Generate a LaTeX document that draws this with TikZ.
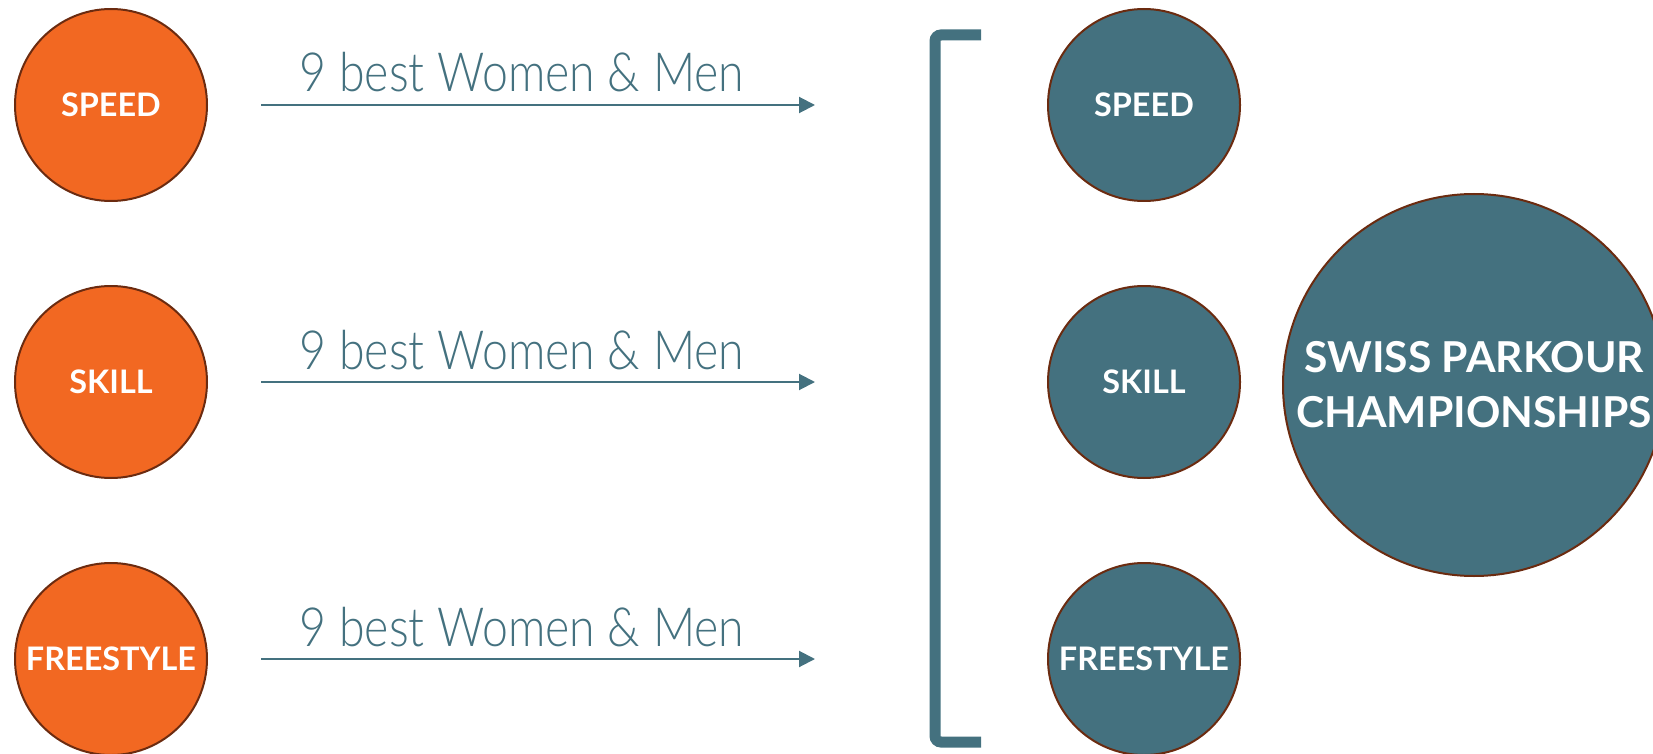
\documentclass[tikz,border=0pt]{standalone}
\usepackage{fontspec}
\setmainfont{Lato}
\newfontfamily\lightfont[FakeStretch=0.86]{Lato Light}
\usetikzlibrary{arrows.meta}

\definecolor{parkorange}{HTML}{F26822}
\definecolor{parkteal}{HTML}{44717F}
\definecolor{parkbrown}{HTML}{6B2B10}

\tikzset{
  disc/.style={circle, draw=parkbrown, line width=1pt, minimum size=96pt,
    inner sep=0pt, text=white, font=\bfseries\fontsize{16.2}{19}\selectfont},
  oldisc/.style={disc, fill=parkorange},
  newdisc/.style={disc, fill=parkteal},
  bigdisc/.style={disc, fill=parkteal, minimum size=191pt, align=center,
    font=\bfseries\fontsize{21.3}{27.5}\selectfont},
  qualify/.style={draw=parkteal, line width=1pt, -{Triangle[length=8pt,width=8pt]}},
  quota/.style={text=parkteal, anchor=base, inner sep=0pt,
    font=\lightfont\fontsize{27}{30}\selectfont},
}

\begin{document}
\begin{tikzpicture}[x=0.5pt, y=-0.5pt]
    \useasboundingbox (0,0) rectangle (1653,754);
    % qualifying disciplines
    \node[oldisc] (speedq) at (111,105) {SPEED};
    \node[oldisc] (skillq) at (111,382) {SKILL};
    \node[oldisc] (freeq) at (111,659) {FREESTYLE};

    % arrows with their labels
    \coordinate (speedin) at (261,105);
    \coordinate (speedout) at (815,105);
    \coordinate (skillin) at (261,382);
    \coordinate (skillout) at (815,382);
    \coordinate (freein) at (261,659);
    \coordinate (freeout) at (815,659);
    \draw[qualify] (speedin) -- (speedout);
    \draw[qualify] (skillin) -- (skillout);
    \draw[qualify] (freein) -- (freeout);
    \node[quota] (speedlbl) at (522,92) {9 best Women \& Men};
    \node[quota] (skilllbl) at (522,369) {9 best Women \& Men};
    \node[quota] (freelbl) at (522,646) {9 best Women \& Men};

    % bracket
    \draw[parkteal, line width=5.5pt, rounded corners=3pt]
      (981,35) -- (935,35) -- (935,742) -- (981,742);

    % championship disciplines
    \node[newdisc] (speedc) at (1144,105) {SPEED};
    \node[newdisc] (skillc) at (1144,382) {SKILL};
    \node[newdisc] (freec) at (1144,659) {FREESTYLE};
    \node[bigdisc] (champ) at (1474,385) {SWISS PARKOUR\\CHAMPIONSHIPS};
  \end{tikzpicture}
\end{document}
